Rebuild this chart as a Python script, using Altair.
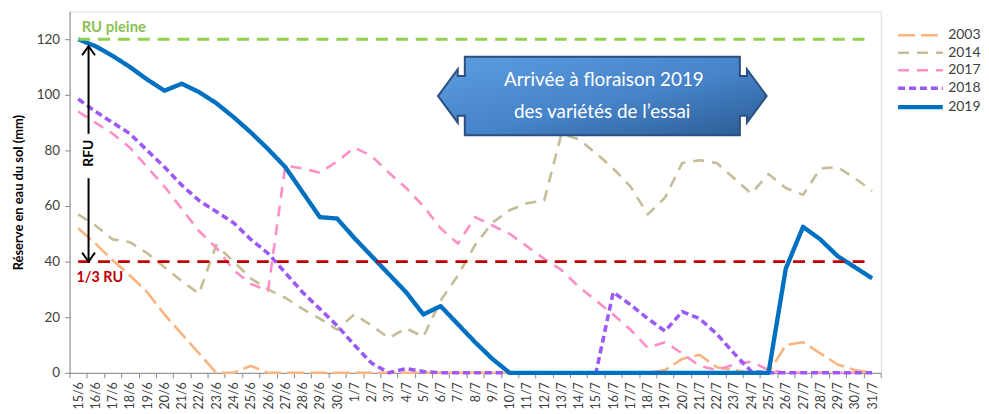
import json
import altair as alt
import pandas as pd

# ---------------- data ----------------
dates = ["15/6", "16/6", "17/6", "18/6", "19/6", "20/6", "21/6", "22/6", "23/6", "24/6",
         "25/6", "26/6", "27/6", "28/6", "29/6", "30/6",
         "1/7", "2/7", "3/7", "4/7", "5/7", "6/7", "7/7", "8/7", "9/7", "10/7",
         "11/7", "12/7", "13/7", "14/7", "15/7", "16/7", "17/7", "18/7", "19/7", "20/7",
         "21/7", "22/7", "23/7", "24/7", "25/7", "26/7", "27/7", "28/7", "29/7", "30/7", "31/7"]

years = ["2003", "2014", "2017", "2018", "2019"]

r2003 = [52, 46.5, 40.5, 35, 29, 21, 14, 7, 0, 0, 2.5, 0, 0, 0, 0, 0,
         0, 0, 0, 0, 0, 0, 0, 0, 0, 0, 0, 0, 0, 0, 0, 0, 0, 0, 1, 5,
         6.5, 2, 1, 0, 0, 10, 11, 7, 3, 1, 0]
r2014 = [57, 53, 48, 47, 43, 38, 33, 28.5, 46, 40, 34, 30, 27, 23, 19.5, 15.5,
         21, 17, 12.5, 16, 13, 26, 35, 46, 54, 58.5, 61, 62, 86, 84, 79, 73.5, 67, 57, 63, 75.5,
         76.5, 75.5, 70, 64.5, 71.5, 66.5, 64, 73.5, 74, 70, 65.5]
r2017 = [94, 90, 86, 81, 74, 67, 59, 51, 45, 37, 32, 29.5, 74.5, 73.5, 72, 76,
         81, 78, 72, 66.5, 60, 52, 46.5, 56, 53, 50, 45.5, 41, 37, 31, 26, 21, 15.5, 9, 11, 7,
         2.5, 1, 3, 4, 1, 0, 0, 0, 0, 0, 0]
r2018 = [98.5, 94, 90, 86, 80, 74, 67.5, 62, 58, 54, 48, 43, 36, 29, 23, 17,
         10, 3.5, 0, 1.5, 0.5, 0, 0, 0, 0, 0, 0, 0, 0, 0, 0, 29, 24.5, 19.5, 15, 22,
         19.5, 14, 7, 0.5, 0, 0, 0, 0, 0, 0, 0]
r2019 = [120, 117.5, 114, 110, 105.5, 101.5, 104, 101, 97, 92, 86.5, 80.5, 74, 65, 56, 55.5,
         48.5, 42, 35.5, 29, 21, 24, 17.5, 11, 5, 0, 0, 0, 0, 0, 0, 0, 0, 0, 0, 0,
         0, 0, 0, 0, 0, 37.5, 52.5, 48, 42, 38, 34]

series = {"2003": r2003, "2014": r2014, "2017": r2017, "2018": r2018, "2019": r2019}

colors = ["#F9B47F", "#C4BD97", "#FF8EC6", "#9B59F5", "#0070C0"]
dashes = [[17, 6], [11, 8], [11, 8], [7, 4], [1, 0]]
widths = [2.6, 2.6, 2.6, 3.6, 4.4]

ru_pleine = 120
tiers_ru = 40

# annotation anchors (data units: day index, mm)
rfu_x = 0.6
rfu_upper = [86, 117.5]
rfu_lower = [40, 70]
rfu_label_y = 79
callout_x = 30.37
callout_y = 99.6
callout_lines = ["Arrivée à  floraison 2019", "des variétés de l’essai"]
callout_line_x = [30.46, 30.36]
callout_line_y = [105.3, 93.9]

FONT = "Lato"
W, H = 817, 364

rows = []
for y in years:
    for k, v in enumerate(series[y]):
        rows.append({"i": k, "value": v, "year": y})
df = pd.DataFrame(rows)

# ---------------- scales / axes ----------------
xscale = alt.Scale(domain=[-0.5, len(dates) - 0.5], nice=False, zero=False)
yscale = alt.Scale(domain=[0, 130], nice=False)

xaxis = alt.Axis(
    values=[k - 0.5 for k in range(len(dates) + 1)],
    labelExpr="(" + json.dumps(dates) + ")[round(datum.value + 0.5)] || ''",
    labelAngle=-90, labelOffset=W / len(dates) / 2,
    labelOverlap=False, labelFlush=False, labelFontSize=12.5, labelPadding=4,
    labelColor="#404040", labelFont=FONT,
    tickSize=5, tickColor="#868686", domainColor="#868686",
    grid=False, title=None,
)
yaxis = alt.Axis(
    values=[0, 20, 40, 60, 80, 100, 120], tickSize=5, tickColor="#868686",
    domainColor="#868686", grid=False, labelFontSize=13.5, labelColor="#404040",
    labelFont=FONT, labelPadding=5,
    title="Réserve en eau du sol (mm)", titleFont=FONT, titleFontSize=13,
    titleFontWeight="bold", titleColor="#000000", titlePadding=11,
)


def X(field="i"):
    return alt.X(f"{field}:Q", scale=xscale, axis=xaxis)


def Y(field):
    return alt.Y(f"{field}:Q", scale=yscale, axis=yaxis)


leg = alt.Legend(
    title=None, orient="none", legendX=832, legendY=15,
    symbolType="M-1,0L5,0", symbolSize=225, labelOffset=33,
    rowPadding=1.6, padding=0, labelFontSize=14, labelFont=FONT,
    labelColor="#404040",
)

lines = alt.Chart(df).mark_line(strokeCap="butt", strokeJoin="round").encode(
    x=X(), y=Y("value"),
    color=alt.Color("year:N", scale=alt.Scale(type="ordinal", domain=years, range=colors), legend=leg),
    strokeDash=alt.StrokeDash("year:N", scale=alt.Scale(type="ordinal", domain=years, range=dashes), legend=leg),
    strokeWidth=alt.StrokeWidth("year:N", scale=alt.Scale(type="ordinal", domain=years, range=widths), legend=leg),
    detail="year:N",
)

refs = pd.DataFrame({"x": [0, 0], "x2": [len(dates) - 1, len(dates) - 1],
                     "y": [ru_pleine, tiers_ru], "name": ["RU pleine", "1/3 RU"]})
green = alt.Chart(refs[refs.name == "RU pleine"]).mark_rule(
    color="#92D050", strokeDash=[12, 8], strokeWidth=3).encode(x=X("x"), x2="x2:Q", y=Y("y"))
red = alt.Chart(refs[refs.name == "1/3 RU"]).mark_rule(
    color="#C00000", strokeDash=[12, 8], strokeWidth=3).encode(x=X("x"), x2="x2:Q", y=Y("y"))

lab_green = alt.Chart(pd.DataFrame({"x": [0.2], "y": [122.6], "t": ["RU pleine"]})).mark_text(
    align="left", baseline="alphabetic", font=FONT, fontSize=15, fontWeight="bold",
    color="#8CC152").encode(x=X("x"), y=Y("y"), text="t:N")
lab_red = alt.Chart(pd.DataFrame({"x": [-0.1], "y": [32.8], "t": ["1/3 RU"]})).mark_text(
    align="left", baseline="alphabetic", font=FONT, fontSize=14.5, fontWeight="bold",
    color="#C00000").encode(x=X("x"), y=Y("y"), text="t:N")

rfu_df = pd.DataFrame({"x": [rfu_x, rfu_x], "y": [rfu_upper[0], rfu_lower[0]],
                       "y2": [rfu_upper[1], rfu_lower[1]]})
rfu_rules = alt.Chart(rfu_df).mark_rule(color="#000000", strokeWidth=2).encode(
    x=X("x"), y=Y("y"), y2="y2:Q")
head_up = alt.Chart(pd.DataFrame({"x": [rfu_x], "y": [rfu_upper[1]]})).mark_point(
    shape="M-1,1.4L0,0L1,1.4", size=169, filled=False, stroke="#000000",
    strokeWidth=2, opacity=1).encode(x=X("x"), y=Y("y"))
head_dn = alt.Chart(pd.DataFrame({"x": [rfu_x], "y": [rfu_lower[0]]})).mark_point(
    shape="M-1,-1.4L0,0L1,-1.4", size=169, filled=False, stroke="#000000",
    strokeWidth=2, opacity=1).encode(x=X("x"), y=Y("y"))
rfu_text = alt.Chart(pd.DataFrame({"x": [rfu_x], "y": [rfu_label_y], "t": ["RFU"]})).mark_text(
    angle=270, align="center", baseline="middle", font=FONT, fontSize=14,
    fontWeight="bold", color="#000000").encode(x=X("x"), y=Y("y"), text="t:N")

grad = alt.LinearGradient(
    gradient="linear",
    stops=[alt.GradientStop(color="#5C9DE0", offset=0),
           alt.GradientStop(color="#4683C8", offset=0.55),
           alt.GradientStop(color="#2B5C93", offset=1)],
    x1=0, y1=0, x2=1, y2=1,
)
callout_shape = ("M-0.837,-0.239L0.837,-0.239L0.837,-0.121L0.88,-0.121L0.88,-0.163L1,0"
                 "L0.88,0.163L0.88,0.121L0.837,0.121L0.837,0.239L-0.837,0.239L-0.837,0.121"
                 "L-0.88,0.121L-0.88,0.163L-1,0L-0.88,-0.163L-0.88,-0.121L-0.837,-0.121Z")
callout = alt.Chart(pd.DataFrame({"x": [callout_x], "y": [callout_y]})).mark_point(
    shape=callout_shape, size=331 * 331, filled=True, fill=grad, stroke="#2A4F80",
    strokeWidth=2, opacity=1).encode(x=X("x"), y=Y("y"))
callout_text = alt.Chart(pd.DataFrame({"x": callout_line_x, "y": callout_line_y,
                                       "t": callout_lines})).mark_text(
    align="center", baseline="middle", font=FONT, fontSize=19, color="#FFFFFF").encode(
    x=X("x"), y=Y("y"), text="t:N")

chart = alt.layer(
    lines, green, red, lab_green, lab_red, rfu_rules, head_up, head_dn, rfu_text,
    callout, callout_text,
).properties(
    width=W, height=H, padding={"left": 4, "top": 2, "right": 0, "bottom": 0},
).configure_view(stroke="#868686", strokeWidth=1).configure(background="white")

chart.save("out.html", embed_options={"renderer": "svg", "actions": False})
